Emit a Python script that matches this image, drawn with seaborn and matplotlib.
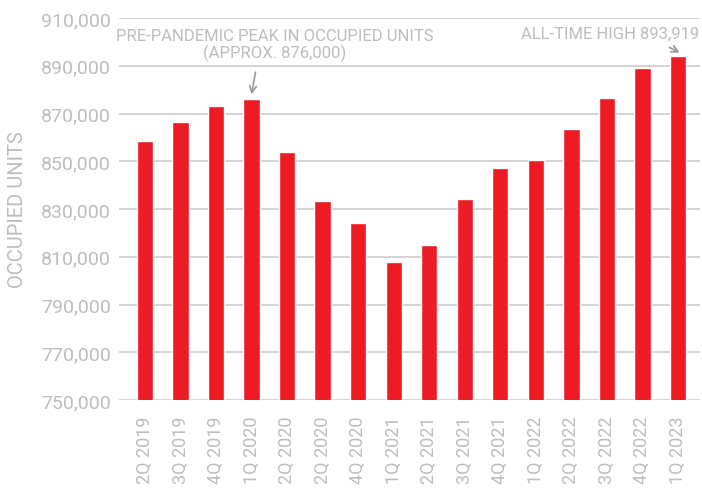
import matplotlib
matplotlib.use("Agg")
import matplotlib.pyplot as plt
import seaborn as sns

quarters = ['2Q 2019', '3Q 2019', '4Q 2019', '1Q 2020', '2Q 2020', '2Q 2020',
            '4Q 2020', '1Q 2021', '2Q 2021', '3Q 2021', '4Q 2021', '1Q 2022',
            '2Q 2022', '3Q 2022', '4Q 2022', '1Q 2023']
occupied = [858500, 866300, 873000, 876000, 853800, 833300, 824000, 807800,
            814800, 834100, 847100, 850400, 863400, 876500, 889000, 893919]
yticks = list(range(750000, 910001, 20000))

red = "#ED1C24"
grey = "#BDBDBD"

sns.set_style("white")
plt.rcParams['font.family'] = ['Roboto', 'DejaVu Sans']

fig = plt.figure(figsize=(7.02, 4.89), dpi=100)
ax = fig.add_axes([119 / 702, 1 - 401 / 489, 581 / 702, 382 / 489])

pos = list(range(len(quarters)))
sns.barplot(x=pos, y=occupied, color=red, width=0.46, saturation=1, ax=ax, zorder=3)

ax.set_ylim(750000, 910000)
ax.set_xlim(-0.73, len(quarters) - 0.38)
ax.set_yticks(yticks)
ax.set_yticklabels([f"{t:,}" for t in yticks], color=grey, fontsize=14)
ax.set_xticks(pos)
ax.set_xticklabels(quarters, rotation=90, color=grey, fontsize=13)
ax.tick_params(axis='y', length=0, pad=6)
ax.tick_params(axis='x', length=0, pad=11)
ax.grid(axis='y', color="#CCCCCC", linewidth=1.2, zorder=0)
ax.set_axisbelow(True)
sns.despine(ax=ax, left=True, bottom=True, top=True, right=True)
ax.set_ylabel("OCCUPIED UNITS", color=grey, fontsize=14.5)
ax.yaxis.set_label_coords(-0.158, 0.5)

ax.annotate("PRE-PANDEMIC PEAK IN OCCUPIED UNITS\n(APPROX. 876,000)",
            xy=(3, 878000), xytext=(3.66, 899000),
            ha='center', va='center', color=grey, fontsize=12,
            linespacing=1.05,
            arrowprops=dict(arrowstyle='->', color='#999999', lw=1.2,
                            relpos=(0.445, 0.0), shrinkA=6, shrinkB=0))
ax.annotate("ALL-TIME HIGH 893,919",
            xy=(15.05, 895500), xytext=(15.6, 903500),
            ha='right', va='center', color=grey, fontsize=12,
            arrowprops=dict(arrowstyle='->', color='#999999', lw=1.2,
                            relpos=(0.76, 0.0), shrinkA=5, shrinkB=0))

fig.savefig("out.png", dpi=100)
